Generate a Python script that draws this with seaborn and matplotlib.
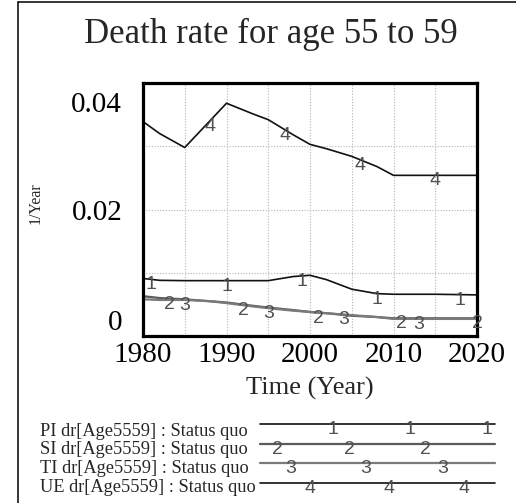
import matplotlib
matplotlib.use("Agg")
import matplotlib.pyplot as plt
from matplotlib.lines import Line2D
from matplotlib.transforms import ScaledTranslation
import numpy as np
import pandas as pd
import seaborn as sns

# ---- data -------------------------------------------------------------
years = [1980, 1982, 1985, 1988, 1990, 1993, 1995, 1998, 2000, 2002,
         2005, 2008, 2010, 2015, 2020]
pi_dr = [0.0091, 0.0088, 0.00875, 0.00875, 0.00875, 0.00875, 0.00875, 0.0094,
         0.0096, 0.0089, 0.0074, 0.0067, 0.0066, 0.0066, 0.0065]
si_dr = [0.0063, 0.0060, 0.0058, 0.0055, 0.0053, 0.0048, 0.0045, 0.0041,
         0.0038, 0.0036, 0.0032, 0.0030, 0.0028, 0.0028, 0.0028]
ti_dr = [0.0058, 0.0057, 0.0057, 0.0055, 0.0052, 0.0047, 0.0044, 0.0040,
         0.0038, 0.0036, 0.0033, 0.0030, 0.0027, 0.0027, 0.0027]
ue_dr = [0.0339, 0.0320, 0.0298, 0.0340, 0.0368, 0.0352, 0.0342, 0.0318,
         0.0303, 0.0296, 0.0284, 0.0268, 0.0254, 0.0254, 0.0254]

series_names = ["PI dr[Age5559] : Status quo", "SI dr[Age5559] : Status quo",
                "TI dr[Age5559] : Status quo", "UE dr[Age5559] : Status quo"]
series_digits = ["1", "2", "3", "4"]
series_values = [pi_dr, si_dr, ti_dr, ue_dr]
series_colors = ["#111111", "#5a5a5a", "#7a7a7a", "#111111"]
series_widths = [1.2, 1.6, 1.6, 1.2]
# years at which each series carries its identifying digit
digit_years = [[1981, 1990, 1999, 2008, 2018],
               [1983.2, 1992, 2001, 2011, 2020],
               [1985, 1995, 2004, 2013],
               [1988, 1997, 2006, 2015]]

x_ticks = [1980, 1990, 2000, 2010, 2020]
x_grid = [1985, 1995, 2005, 2015]
y_ticks = [0, 0.02, 0.04]
y_tick_labels = ["0", "0.02", "0.04"]
y_grid = [0.01, 0.03]

title = "Death rate for age 55 to 59"
x_label = "Time (Year)"
y_label = "1/Year"

# ---- figure -----------------------------------------------------------
W, H = 516, 503
sns.set_theme(style="white")
plt.rcParams["font.family"] = ["Liberation Serif", "DejaVu Serif"]
SANS = ["Liberation Sans", "DejaVu Sans"]


def fx(px):
    return px / W


def fy(py):
    return 1 - py / H


fig = plt.figure(figsize=(W / 100, H / 100), dpi=100)
fig.patch.set_facecolor("white")

# outer frame (left and top edges)
fig.add_artist(Line2D([fx(18), fx(18)], [0, fy(2)], transform=fig.transFigure,
                      color="black", lw=1.1))
fig.add_artist(Line2D([fx(18), 1], [fy(2), fy(2)], transform=fig.transFigure,
                      color="black", lw=1.1))

ax = fig.add_axes([fx(143), fy(336), fx(477 - 143), (336 - 83) / H])

frames = []
for name, vals in zip(series_names, series_values):
    frames.append(pd.DataFrame({"Year": years, "dr": vals, "series": name}))
df = pd.concat(frames, ignore_index=True)

for name, color, lw in zip(series_names, series_colors, series_widths):
    sns.lineplot(data=df[df["series"] == name], x="Year", y="dr", ax=ax,
                 color=color, linewidth=lw, legend=False)

# digit labels along each line
for digit, vals, yrs in zip(series_digits, series_values, digit_years):
    for yr in yrs:
        yv = float(np.interp(yr, years, vals))
        ax.annotate(digit, xy=(yr, yv), xytext=(0, 2.2), textcoords="offset points",
                    ha="center", va="top", fontsize=14, color="#505050",
                    family=SANS, zorder=5, annotation_clip=False)

ax.set_xlim(1980, 2020)
ax.set_ylim(0, 0.04)
ax.set_xticks(x_ticks)
ax.set_xticklabels([str(t) for t in x_ticks])
ax.set_xticks(x_grid, minor=True)
ax.set_yticks(y_ticks)
ax.set_yticklabels(y_tick_labels)
ax.set_yticks(y_grid, minor=True)
ax.set_xlabel("")
ax.set_ylabel("")
ax.tick_params(axis="both", which="both", length=0, labelsize=21, colors="black")
ax.tick_params(axis="y", pad=15)
ax.tick_params(axis="x", pad=4)
ax.grid(True, which="both", linestyle=(0, (1, 1.5)), color="#b5b5b5", linewidth=0.8)
ax.set_axisbelow(True)
for sp in ax.spines.values():
    sp.set_visible(True)
    sp.set_color("black")
    sp.set_linewidth(2.3)

# end labels of the value axis sit inside the range
yt = ax.yaxis.get_major_ticks()
yt[2].label1.set_transform(yt[2].label1.get_transform()
                           + ScaledTranslation(0, -0.19, fig.dpi_scale_trans))
yt[0].label1.set_transform(yt[0].label1.get_transform()
                           + ScaledTranslation(0, 0.16, fig.dpi_scale_trans))

fig.text(fx(271), fy(43), title, ha="center", va="baseline", fontsize=25)
fig.text(fx(310), fy(395), x_label, ha="center", va="baseline", fontsize=19)
fig.text(fx(36), fy(203), y_label, ha="center", va="center", rotation=90, fontsize=11.5)

# ---- key --------------------------------------------------------------
row_line_y = [424, 443.5, 463, 483]
row_text_y = [436, 454.5, 473, 491.5]
key_digit_x = [[333, 410, 487], [277, 349, 425], [291, 366, 443], [310, 389, 464]]
for i, name in enumerate(series_names):
    fig.text(fx(40), fy(row_text_y[i]), name, ha="left", va="baseline", fontsize=13.2)
    fig.add_artist(Line2D([fx(260), fx(495)], [fy(row_line_y[i])] * 2,
                          transform=fig.transFigure, color=series_colors[i],
                          lw=series_widths[i]))
    for px in key_digit_x[i]:
        fig.text(fx(px), fy(row_line_y[i] - 3), series_digits[i], ha="center", va="top",
                 fontsize=14, color="#505050", family=SANS)

fig.savefig("out.png", dpi=100, facecolor="white")
